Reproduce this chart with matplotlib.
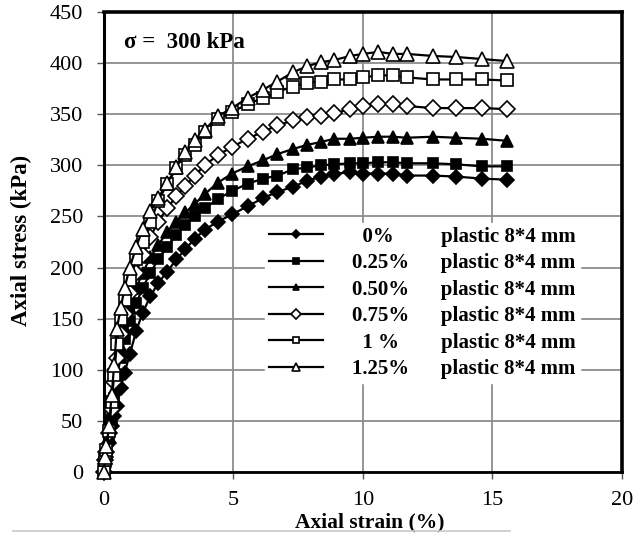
import matplotlib
matplotlib.use("Agg")
import matplotlib.pyplot as plt

plt.rcParams["font.family"] = ["Liberation Serif", "DejaVu Serif"]

# ---------------------------------------------------------------------------
# Data
# ---------------------------------------------------------------------------
strain = [0, 0.05, 0.1, 0.2, 0.3, 0.4, 0.5, 0.65, 0.8, 1.0, 1.25, 1.5, 1.8,
          2.1, 2.45, 2.8, 3.15, 3.5, 3.9, 4.4, 4.95, 5.55, 6.15, 6.7, 7.3,
          7.85, 8.4, 8.9, 9.5, 10.0, 10.6, 11.15, 11.7, 12.7, 13.6, 14.6, 15.55]

stress_0 = [0, 8, 15, 28, 45, 55, 65, 82, 97, 115, 138, 156, 172,
            185, 196, 208, 218, 228, 237, 245, 252, 260, 268, 274, 279,
            285, 289, 292, 293, 292, 292, 292, 290, 290, 289, 287, 286]
stress_025 = [0, 8, 18, 32, 52, 72, 92, 112, 130, 148, 165, 180, 195,
              208, 220, 232, 242, 250, 258, 267, 275, 282, 287, 290, 296,
              298, 300, 301, 302, 302, 303, 303, 302, 302, 301, 299, 299]
stress_050 = [0, 10, 20, 35, 58, 80, 100, 122, 140, 160, 180, 195, 210,
              222, 235, 245, 254, 262, 272, 283, 292, 299, 305, 311, 316,
              320, 323, 326, 326, 327, 328, 328, 327, 328, 327, 326, 324]
stress_075 = [0, 12, 20, 38, 62, 88, 112, 135, 155, 175, 195, 212, 230,
              245, 258, 270, 280, 290, 300, 310, 318, 326, 333, 339, 344,
              347, 348, 351, 355, 358, 360, 360, 358, 356, 356, 356, 355]
stress_100 = [0, 12, 22, 40, 68, 95, 125, 150, 168, 188, 208, 225, 245,
              265, 282, 297, 310, 320, 333, 345, 352, 360, 366, 372, 377,
              381, 382, 384, 384, 386, 388, 388, 386, 384, 384, 384, 383]
stress_125 = [0, 15, 25, 45, 75, 105, 140, 160, 180, 200, 220, 238, 255,
              268, 283, 298, 313, 325, 335, 348, 356, 366, 374, 382, 391,
              397, 401, 403, 407, 409, 411, 409, 409, 407, 406, 404, 402]

# fiber contents, padded with spaces so the second column lines up
contents = ["  0%   ", "0.25%", "0.50%", "0.75%", "  1 %  ", "1.25%"]
fiber = "plastic 8*4 mm"
series = [stress_0, stress_025, stress_050, stress_075, stress_100, stress_125]
markers = ["D", "s", "^", "D", "s", "^"]
faces = ["black", "black", "black", "white", "white", "white"]
sizes = [7, 7.5, 8, 8.5, 8.5, 10]

# ---------------------------------------------------------------------------
# Plot
# ---------------------------------------------------------------------------
fig = plt.figure(figsize=(6.37, 5.36), dpi=100)
ax = fig.add_axes([0.163, 0.1194, 0.8135, 0.8582])

handles = []
for y, m, fc, ms in zip(series, markers, faces, sizes):
    h, = ax.plot(strain, y, color="black", lw=1.6, marker=m, ms=ms,
                 mfc=fc, mec="black", mew=1.2, clip_on=False, zorder=3)
    handles.append(h)

ax.set_xlim(0, 20)
ax.set_ylim(0, 450)
ax.set_xticks([0, 5, 10, 15, 20])
ax.set_yticks(range(0, 451, 50))
ax.grid(True, color="#8c8c8c", lw=1.3)
ax.set_axisbelow(True)
ax.tick_params(labelsize=16, length=5, width=1, color="#555555")
ax.tick_params(axis="y", pad=10)
ax.tick_params(axis="x", pad=8.5)

for side, lw in [("left", 2.2), ("top", 2.6), ("right", 2.6), ("bottom", 2.0)]:
    ax.spines[side].set_linewidth(lw)
    ax.spines[side].set_color("black")

ax.set_ylabel("Axial stress (kPa)", fontsize=16.5, fontweight="bold")
ax.yaxis.set_label_coords(-0.139, 0.504)
ax.set_xlabel("Axial strain (%)", fontsize=15.5, fontweight="bold")
ax.xaxis.set_label_coords(0.514, -0.088)

ax.text(0.039, 0.933, "σ =  300 kPa", transform=ax.transAxes, fontsize=16.5,
        fontweight="bold", va="center", ha="left")

labels = [c + "      " + fiber for c in contents]
leg = ax.legend(handles, labels, loc="upper left", bbox_to_anchor=(0.29, 0.565),
                prop={"weight": "bold", "size": 15}, frameon=True,
                framealpha=1, edgecolor="white", fancybox=False,
                labelspacing=0.31, borderpad=0.2, handlelength=2.6,
                handletextpad=1.4, markerscale=0.55)

fig.add_artist(plt.Line2D([0.02, 0.8], [0.009, 0.009], transform=fig.transFigure,
                          color="#c8c8c8", lw=1.2))

fig.savefig("out.png", dpi=100)
